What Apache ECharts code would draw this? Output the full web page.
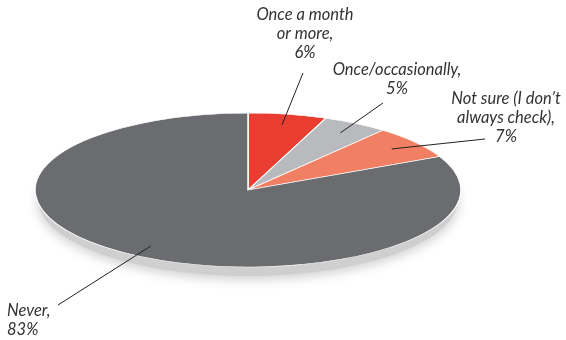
<!DOCTYPE html>
<html>
<head>
<meta charset="utf-8">
<script src="https://cdn.jsdelivr.net/npm/echarts@6/dist/echarts.min.js"></script>
<style>
html, body { margin: 0; padding: 0; background: #fff; }
#main { width: 566px; height: 340px; }
</style>
</head>
<body>
<div id="main"></div>
<script>
// data
var categories = ['Once a month\nor more,', 'Once/occasionally,', 'Not sure (I don’t\nalways check),', 'Never,'];
var values = [6, 5, 7, 83];
var colors = ['#ea3d31', '#b9babd', '#f17f63', '#6b6c70'];

// where each label sits, and the outer end of its leader line
var labelPos = [
    {x: 305, y: 34, align: 'center', lx: 303, ly: 73},
    {x: 397, y: 79, align: 'center', lx: 383, ly: 103},
    {x: 506, y: 118, align: 'center', lx: 485, ly: 139},
    {x: 7, y: 320, align: 'left', lx: 58, ly: 305}
];

var pie = {cx: 248, cy: 190, rx: 213, ry: 77};
var total = values.reduce(function (a, b) { return a + b; }, 0);

function startOf(idx) {
    var s = 0;
    for (var i = 0; i < idx; i++) s += values[i];
    return s;
}

var myChart = echarts.init(document.getElementById('main'));

function renderItem(params, api) {
    var idx = params.dataIndex;
    var v = api.value(1);
    var a0 = -Math.PI / 2 + startOf(idx) / total * Math.PI * 2;
    var a1 = a0 + v / total * Math.PI * 2;
    var mid = (a0 + a1) / 2;
    var k = pie.ry / pie.rx;
    var children = [];

    if (idx === 0) {
        // soft shadow under the flattened pie
        children.push({
            type: 'ellipse',
            shape: {cx: pie.cx, cy: pie.cy + 9, rx: pie.rx - 3, ry: pie.ry},
            style: {fill: '#cfcfcf', shadowBlur: 12, shadowColor: 'rgba(0,0,0,0.2)', shadowOffsetY: 3},
            z2: -5
        });
    }

    children.push({
        type: 'sector',
        shape: {cx: pie.cx, cy: pie.cy, r: pie.rx, r0: 0, startAngle: a0, endAngle: a1, clockwise: true},
        originX: pie.cx,
        originY: pie.cy,
        scaleY: k,
        style: {fill: colors[idx], stroke: '#fff', lineWidth: 1.5, strokeNoScale: true},
        z2: 0
    });

    var f = 0.86;
    var ix = pie.cx + Math.cos(mid) * pie.rx * f;
    var iy = pie.cy + Math.sin(mid) * pie.ry * f;
    var lp = labelPos[idx];
    children.push({
        type: 'line',
        shape: {x1: ix, y1: iy, x2: lp.lx, y2: lp.ly},
        style: {stroke: '#222', lineWidth: 1},
        z2: 10
    });
    children.push({
        type: 'text',
        style: {
            text: categories[idx] + '\n' + v + '%',
            x: lp.x,
            y: lp.y,
            align: lp.align,
            verticalAlign: 'middle',
            fontFamily: 'Lato',
            fontStyle: 'italic',
            fontSize: 16.5,
            lineHeight: 19,
            fill: '#333'
        },
        z2: 10
    });

    return {type: 'group', children: children};
}

var option = {
    animation: false,
    series: [{
        type: 'custom',
        coordinateSystem: 'none',
        renderItem: renderItem,
        data: values.map(function (v, i) { return {name: categories[i], value: [i, v]}; })
    }]
};

myChart.setOption(option);
</script>
</body>
</html>
